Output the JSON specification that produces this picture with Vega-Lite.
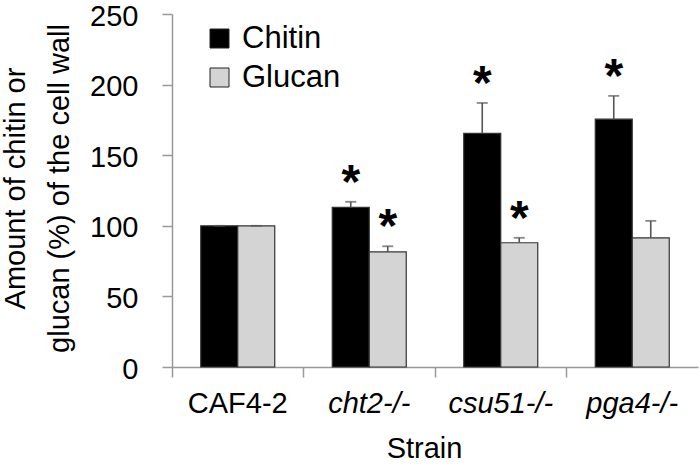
{
  "$schema": "https://vega.github.io/schema/vega-lite/v6.json",
  "autosize": {"type": "none"},
  "width": 526,
  "height": 353,
  "padding": {"left": 172, "top": 14, "right": 2, "bottom": 101},
  "background": "white",
  "config": {
    "view": {"stroke": null},
    "font": "Liberation Sans",
    "axis": {"grid": false, "domainColor": "#999999", "domainWidth": 1.5, "tickColor": "#999999", "tickWidth": 1.5, "labelColor": "black", "titleColor": "black", "labelFont": "Liberation Sans", "titleFont": "Liberation Sans", "titleFontWeight": "normal"}
  },
  "data": {
    "values": [
      {"strain": "CAF4-2", "type": "Chitin", "value": 100, "upper": 100, "star": false},
      {"strain": "CAF4-2", "type": "Glucan", "value": 100, "upper": 100, "star": false},
      {"strain": "cht2-/-", "type": "Chitin", "value": 113, "upper": 117, "star": true},
      {"strain": "cht2-/-", "type": "Glucan", "value": 81.5, "upper": 85.5, "star": true},
      {"strain": "csu51-/-", "type": "Chitin", "value": 165.5, "upper": 187, "star": true},
      {"strain": "csu51-/-", "type": "Glucan", "value": 88, "upper": 91.5, "star": true},
      {"strain": "pga4-/-", "type": "Chitin", "value": 175.5, "upper": 192, "star": true},
      {"strain": "pga4-/-", "type": "Glucan", "value": 91.5, "upper": 103.5, "star": false}
    ]
  },
  "encoding": {
    "x": {
      "field": "strain", "type": "nominal", "sort": null,
      "scale": {"paddingInner": 0, "paddingOuter": 0},
      "axis": {
        "title": "Strain", "titleFontSize": 29, "titleX": 252, "titleY": 90, "titleBaseline": "alphabetic",
        "labelAngle": 0, "labelFontSize": 29, "labelPadding": 12, "tickSize": 10, "bandPosition": 0,
        "labelFontStyle": {"condition": {"test": "datum.value == 'CAF4-2'", "value": "normal"}, "value": "italic"}
      }
    },
    "xOffset": {"field": "type", "type": "nominal", "scale": {"paddingInner": 0, "paddingOuter": 0.777}}
  },
  "layer": [
    {
      "mark": {"type": "bar", "stroke": "#333333", "strokeWidth": 1.2},
      "encoding": {
        "y": {
          "field": "value", "type": "quantitative",
          "scale": {"domain": [0, 250], "nice": false},
          "axis": {
            "values": [0, 50, 100, 150, 200, 250], "labelFontSize": 29, "labelPadding": 24, "labelOffset": 2, "tickSize": 10,
            "title": ["Amount of chitin or", "glucan (%) of the cell wall"], "titleFontSize": 29,
            "titleAngle": -90, "titleX": -171, "titleY": 174, "titleBaseline": "top", "titleLineHeight": 44, "titleAnchor": "middle", "titleAlign": "center"
          }
        },
        "color": {
          "field": "type", "type": "nominal",
          "scale": {"domain": ["Chitin", "Glucan"], "range": ["#000000", "#d4d4d4"]},
          "legend": {
            "title": null, "orient": "none", "legendX": 32, "legendY": 9,
            "symbolType": "square", "symbolSize": 361, "symbolStrokeColor": "#222222", "symbolStrokeWidth": 1,
            "labelFontSize": 31, "labelColor": "black", "labelOffset": 7, "rowPadding": 7, "labelFont": "Liberation Sans"
          }
        }
      }
    },
    {
      "mark": {"type": "rule", "color": "#555555", "strokeWidth": 1.6},
      "encoding": {
        "y": {"field": "value", "type": "quantitative"},
        "y2": {"field": "upper"}
      }
    },
    {
      "mark": {"type": "tick", "color": "#555555", "thickness": 1.8, "size": 11, "orient": "horizontal"},
      "encoding": {
        "y": {"field": "upper", "type": "quantitative"}
      }
    },
    {
      "transform": [{"filter": "datum.star"}],
      "mark": {"type": "text", "text": "*", "fontSize": 48, "fontWeight": "bold", "baseline": "alphabetic", "dy": -4, "color": "black"},
      "encoding": {
        "y": {"field": "upper", "type": "quantitative"}
      }
    }
  ]
}
